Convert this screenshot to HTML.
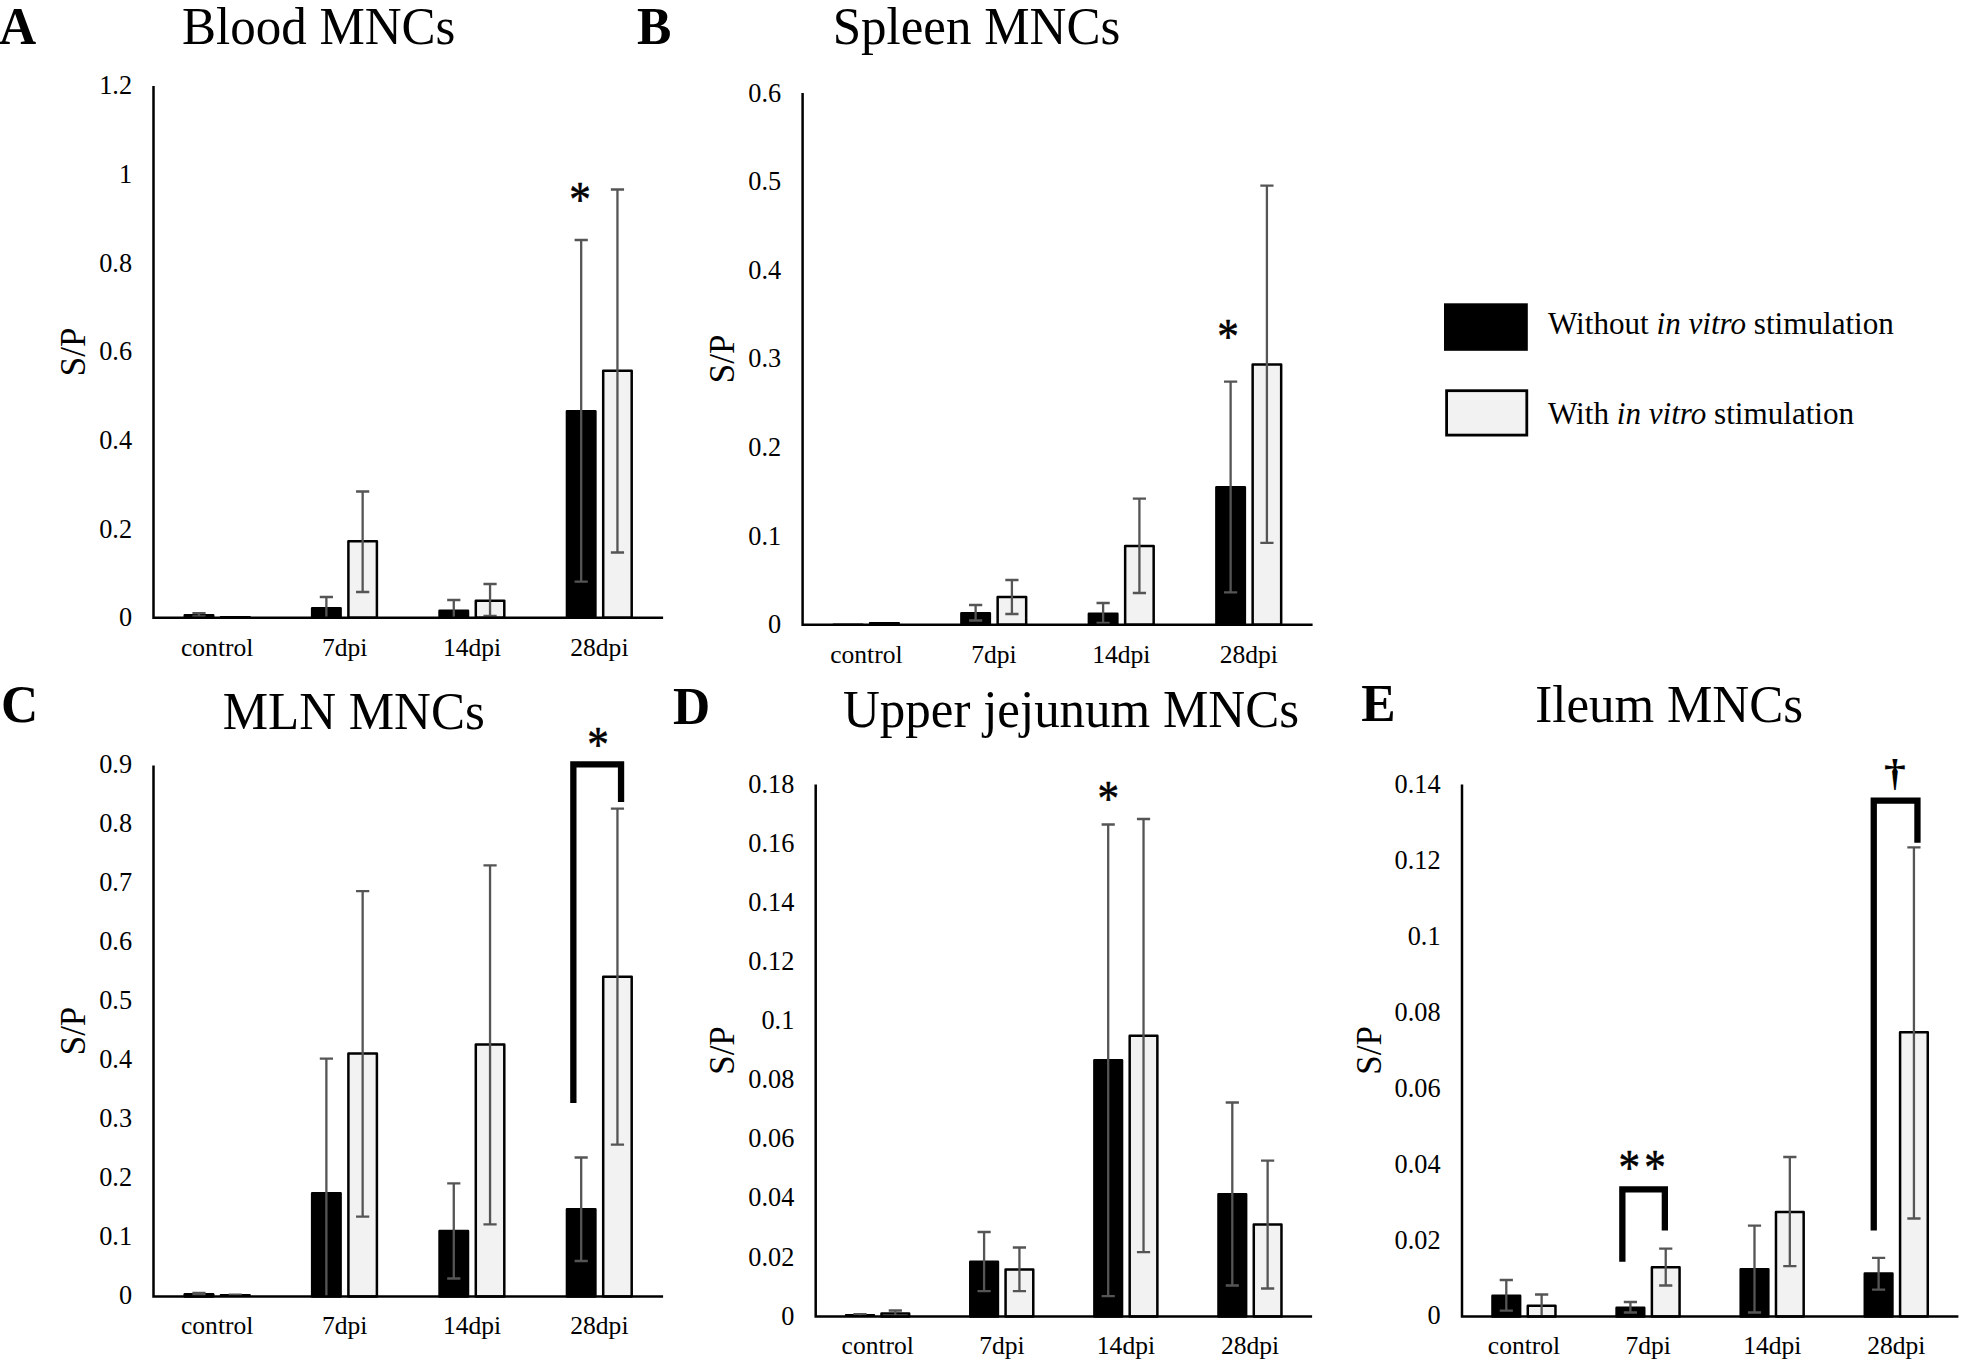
<!DOCTYPE html>
<html lang="en"><head><meta charset="utf-8"><title>S/P ratios in MNCs</title>
<style>html,body{margin:0;padding:0;background:#fff}body{width:1961px;height:1362px;overflow:hidden}svg{display:block}text{font-family:"Liberation Serif", "DejaVu Serif", serif;fill:#000}</style>
</head><body>
<svg width="1961" height="1362" viewBox="0 0 1961 1362">
<rect width="1961" height="1362" fill="#fff"/>
<g>
<rect x="184.75" y="615.15" width="28.46" height="2.65" fill="#000" stroke="#000" stroke-width="2.5" stroke-linejoin="round"/>
<rect x="219.75" y="615.9" width="31" height="1.9" rx="0.8" fill="#000"/>
<path d="M198.98 613.2V616.4M192.38 613.2H205.58M192.38 616.4H205.58" stroke="#555555" stroke-width="2.3" fill="none"/>
<rect x="312.15" y="608.15" width="28.46" height="9.65" fill="#000" stroke="#000" stroke-width="2.5" stroke-linejoin="round"/>
<rect x="348.4" y="541.25" width="28.5" height="76.55" fill="#f2f2f2" stroke="#000" stroke-width="2.5" stroke-linejoin="round"/>
<path d="M326.38 597V617.8M319.78 597H332.98" stroke="#555555" stroke-width="2.3" fill="none"/>
<path d="M362.65 491.5V592M356.05 491.5H369.25M356.05 592H369.25" stroke="#555555" stroke-width="2.3" fill="none"/>
<rect x="439.55" y="610.65" width="28.46" height="7.15" fill="#000" stroke="#000" stroke-width="2.5" stroke-linejoin="round"/>
<rect x="475.8" y="600.75" width="28.5" height="17.05" fill="#f2f2f2" stroke="#000" stroke-width="2.5" stroke-linejoin="round"/>
<path d="M453.78 600V617.8M447.18 600H460.38" stroke="#555555" stroke-width="2.3" fill="none"/>
<path d="M490.05 584V616M483.45 584H496.65M483.45 616H496.65" stroke="#555555" stroke-width="2.3" fill="none"/>
<rect x="566.95" y="411.15" width="28.46" height="206.65" fill="#000" stroke="#000" stroke-width="2.5" stroke-linejoin="round"/>
<rect x="603.2" y="370.75" width="28.5" height="247.05" fill="#f2f2f2" stroke="#000" stroke-width="2.5" stroke-linejoin="round"/>
<path d="M581.18 240V581.7M574.58 240H587.78M574.58 581.7H587.78" stroke="#555555" stroke-width="2.3" fill="none"/>
<path d="M617.45 189.5V552.5M610.85 189.5H624.05M610.85 552.5H624.05" stroke="#555555" stroke-width="2.3" fill="none"/>
<path d="M153.5 86V617.8H663.1" stroke="#000" stroke-width="2.5" fill="none" stroke-linejoin="miter"/>
<text x="132.1" y="626.19" font-size="26.3" text-anchor="end">0</text>
<text x="132.1" y="537.54" font-size="26.3" text-anchor="end">0.2</text>
<text x="132.1" y="448.89" font-size="26.3" text-anchor="end">0.4</text>
<text x="132.1" y="360.24" font-size="26.3" text-anchor="end">0.6</text>
<text x="132.1" y="271.59" font-size="26.3" text-anchor="end">0.8</text>
<text x="132.1" y="182.94" font-size="26.3" text-anchor="end">1</text>
<text x="132.1" y="94.29" font-size="26.3" text-anchor="end">1.2</text>
<text x="217.2" y="656" font-size="25.55" text-anchor="middle">control</text>
<text x="344.6" y="656" font-size="25.55" text-anchor="middle">7dpi</text>
<text x="472" y="656" font-size="25.55" text-anchor="middle">14dpi</text>
<text x="599.4" y="656" font-size="25.55" text-anchor="middle">28dpi</text>
<text transform="translate(84.6 351.9) rotate(-90)" font-size="35" text-anchor="middle">S/P</text>
<text transform="translate(-1 44) scale(1 1.03)" font-size="51.5" font-weight="bold">A</text>
<text transform="translate(182 43.8) scale(1 1.02)" font-size="51">Blood MNCs</text>
</g>
<text transform="translate(580 192.3) scale(1 1.17)" x="0" y="20.37" font-size="43.2" text-anchor="middle" stroke="#000" stroke-width="0.5" stroke-linejoin="round">*</text>
<g>
<rect x="832.63" y="623.4" width="30.98" height="1.4" rx="0.8" fill="#000"/>
<rect x="868.9" y="622" width="31.02" height="2.8" rx="0.8" fill="#000"/>
<rect x="961.38" y="613.15" width="28.48" height="11.65" fill="#000" stroke="#000" stroke-width="2.5" stroke-linejoin="round"/>
<rect x="997.65" y="596.95" width="28.52" height="27.85" fill="#f2f2f2" stroke="#000" stroke-width="2.5" stroke-linejoin="round"/>
<path d="M975.62 605V620.5M969.02 605H982.22M969.02 620.5H982.22" stroke="#555555" stroke-width="2.3" fill="none"/>
<path d="M1011.91 580V614M1005.31 580H1018.51M1005.31 614H1018.51" stroke="#555555" stroke-width="2.3" fill="none"/>
<rect x="1088.88" y="613.65" width="28.48" height="11.15" fill="#000" stroke="#000" stroke-width="2.5" stroke-linejoin="round"/>
<rect x="1125.15" y="545.95" width="28.52" height="78.85" fill="#f2f2f2" stroke="#000" stroke-width="2.5" stroke-linejoin="round"/>
<path d="M1103.12 603V623M1096.52 603H1109.72M1096.52 623H1109.72" stroke="#555555" stroke-width="2.3" fill="none"/>
<path d="M1139.41 498.7V593M1132.81 498.7H1146.01M1132.81 593H1146.01" stroke="#555555" stroke-width="2.3" fill="none"/>
<rect x="1216.38" y="487.35" width="28.48" height="137.45" fill="#000" stroke="#000" stroke-width="2.5" stroke-linejoin="round"/>
<rect x="1252.65" y="364.45" width="28.52" height="260.35" fill="#f2f2f2" stroke="#000" stroke-width="2.5" stroke-linejoin="round"/>
<path d="M1230.62 381.7V592.3M1224.02 381.7H1237.22M1224.02 592.3H1237.22" stroke="#555555" stroke-width="2.3" fill="none"/>
<path d="M1266.91 185.7V542.8M1260.31 185.7H1273.51M1260.31 542.8H1273.51" stroke="#555555" stroke-width="2.3" fill="none"/>
<path d="M802.6 93V624.8H1312.6" stroke="#000" stroke-width="2.5" fill="none" stroke-linejoin="miter"/>
<text x="781.2" y="633.09" font-size="26.3" text-anchor="end">0</text>
<text x="781.2" y="544.54" font-size="26.3" text-anchor="end">0.1</text>
<text x="781.2" y="455.99" font-size="26.3" text-anchor="end">0.2</text>
<text x="781.2" y="367.44" font-size="26.3" text-anchor="end">0.3</text>
<text x="781.2" y="278.89" font-size="26.3" text-anchor="end">0.4</text>
<text x="781.2" y="190.34" font-size="26.3" text-anchor="end">0.5</text>
<text x="781.2" y="101.79" font-size="26.3" text-anchor="end">0.6</text>
<text x="866.35" y="662.5" font-size="25.55" text-anchor="middle">control</text>
<text x="993.85" y="662.5" font-size="25.55" text-anchor="middle">7dpi</text>
<text x="1121.35" y="662.5" font-size="25.55" text-anchor="middle">14dpi</text>
<text x="1248.85" y="662.5" font-size="25.55" text-anchor="middle">28dpi</text>
<text transform="translate(734 358.9) rotate(-90)" font-size="35" text-anchor="middle">S/P</text>
<text transform="translate(637 44) scale(1 1.03)" font-size="51.5" font-weight="bold">B</text>
<text transform="translate(832.7 43.9) scale(1 1.02)" font-size="51">Spleen MNCs</text>
</g>
<text transform="translate(1228 329.3) scale(1 1.17)" x="0" y="20.37" font-size="43.2" text-anchor="middle" stroke="#000" stroke-width="0.5" stroke-linejoin="round">*</text>
<g>
<rect x="184.75" y="1294.35" width="28.46" height="2.15" fill="#000" stroke="#000" stroke-width="2.5" stroke-linejoin="round"/>
<rect x="219.75" y="1294" width="31" height="2.5" rx="0.8" fill="#000"/>
<path d="M198.98 1293V1295M192.38 1293H205.58M192.38 1295H205.58" stroke="#555555" stroke-width="2.3" fill="none"/>
<path d="M235.25 1294.6V1296.5M228.65 1294.6H241.85" stroke="#555555" stroke-width="2.3" fill="none"/>
<rect x="312.15" y="1193.15" width="28.46" height="103.35" fill="#000" stroke="#000" stroke-width="2.5" stroke-linejoin="round"/>
<rect x="348.4" y="1053.45" width="28.5" height="243.05" fill="#f2f2f2" stroke="#000" stroke-width="2.5" stroke-linejoin="round"/>
<path d="M326.38 1058.7V1296.5M319.78 1058.7H332.98" stroke="#555555" stroke-width="2.3" fill="none"/>
<path d="M362.65 891.2V1216.7M356.05 891.2H369.25M356.05 1216.7H369.25" stroke="#555555" stroke-width="2.3" fill="none"/>
<rect x="439.55" y="1230.95" width="28.46" height="65.55" fill="#000" stroke="#000" stroke-width="2.5" stroke-linejoin="round"/>
<rect x="475.8" y="1044.45" width="28.5" height="252.05" fill="#f2f2f2" stroke="#000" stroke-width="2.5" stroke-linejoin="round"/>
<path d="M453.78 1183.3V1278.5M447.18 1183.3H460.38M447.18 1278.5H460.38" stroke="#555555" stroke-width="2.3" fill="none"/>
<path d="M490.05 865.4V1224.3M483.45 865.4H496.65M483.45 1224.3H496.65" stroke="#555555" stroke-width="2.3" fill="none"/>
<rect x="566.95" y="1209.15" width="28.46" height="87.35" fill="#000" stroke="#000" stroke-width="2.5" stroke-linejoin="round"/>
<rect x="603.2" y="976.75" width="28.5" height="319.75" fill="#f2f2f2" stroke="#000" stroke-width="2.5" stroke-linejoin="round"/>
<path d="M581.18 1157.5V1261M574.58 1157.5H587.78M574.58 1261H587.78" stroke="#555555" stroke-width="2.3" fill="none"/>
<path d="M617.45 808.7V1144.6M610.85 808.7H624.05M610.85 1144.6H624.05" stroke="#555555" stroke-width="2.3" fill="none"/>
<path d="M153.5 765.5V1296.5H663.1" stroke="#000" stroke-width="2.5" fill="none" stroke-linejoin="miter"/>
<text x="132.1" y="1303.89" font-size="26.3" text-anchor="end">0</text>
<text x="132.1" y="1244.89" font-size="26.3" text-anchor="end">0.1</text>
<text x="132.1" y="1185.89" font-size="26.3" text-anchor="end">0.2</text>
<text x="132.1" y="1126.89" font-size="26.3" text-anchor="end">0.3</text>
<text x="132.1" y="1067.89" font-size="26.3" text-anchor="end">0.4</text>
<text x="132.1" y="1008.89" font-size="26.3" text-anchor="end">0.5</text>
<text x="132.1" y="949.89" font-size="26.3" text-anchor="end">0.6</text>
<text x="132.1" y="890.89" font-size="26.3" text-anchor="end">0.7</text>
<text x="132.1" y="831.89" font-size="26.3" text-anchor="end">0.8</text>
<text x="132.1" y="772.89" font-size="26.3" text-anchor="end">0.9</text>
<text x="217.2" y="1333.5" font-size="25.55" text-anchor="middle">control</text>
<text x="344.6" y="1333.5" font-size="25.55" text-anchor="middle">7dpi</text>
<text x="472" y="1333.5" font-size="25.55" text-anchor="middle">14dpi</text>
<text x="599.4" y="1333.5" font-size="25.55" text-anchor="middle">28dpi</text>
<text transform="translate(84.6 1031) rotate(-90)" font-size="35" text-anchor="middle">S/P</text>
<text transform="translate(1 722.2) scale(1 1.03)" font-size="51.5" font-weight="bold">C</text>
<text transform="translate(222.7 729) scale(1 1.02)" font-size="51">MLN MNCs</text>
</g>
<path d="M570.2 1103V761.2H624.2V802H617.9V767.5H576.5V1103Z" fill="#000"/>
<text transform="translate(598 736.8) scale(1 1.17)" x="0" y="20.37" font-size="43.2" text-anchor="middle" stroke="#000" stroke-width="0.5" stroke-linejoin="round">*</text>
<g>
<rect x="844.93" y="1313.9" width="30.16" height="2.6" rx="0.8" fill="#000"/>
<rect x="881.48" y="1313.45" width="27.69" height="3.05" fill="#f2f2f2" stroke="#000" stroke-width="2.5" stroke-linejoin="round"/>
<path d="M860 1314.2V1316.5M853.4 1314.2H866.6" stroke="#555555" stroke-width="2.3" fill="none"/>
<path d="M895.33 1310.5V1316.5M888.73 1310.5H901.93" stroke="#555555" stroke-width="2.3" fill="none"/>
<rect x="970.28" y="1261.85" width="27.66" height="54.65" fill="#000" stroke="#000" stroke-width="2.5" stroke-linejoin="round"/>
<rect x="1005.58" y="1269.45" width="27.69" height="47.05" fill="#f2f2f2" stroke="#000" stroke-width="2.5" stroke-linejoin="round"/>
<path d="M984.1 1232V1291.2M977.5 1232H990.7M977.5 1291.2H990.7" stroke="#555555" stroke-width="2.3" fill="none"/>
<path d="M1019.43 1247.5V1291.2M1012.83 1247.5H1026.03M1012.83 1291.2H1026.03" stroke="#555555" stroke-width="2.3" fill="none"/>
<rect x="1094.38" y="1060.15" width="27.66" height="256.35" fill="#000" stroke="#000" stroke-width="2.5" stroke-linejoin="round"/>
<rect x="1129.68" y="1035.75" width="27.69" height="280.75" fill="#f2f2f2" stroke="#000" stroke-width="2.5" stroke-linejoin="round"/>
<path d="M1108.2 824.5V1296.1M1101.6 824.5H1114.8M1101.6 1296.1H1114.8" stroke="#555555" stroke-width="2.3" fill="none"/>
<path d="M1143.53 819V1252.2M1136.93 819H1150.13M1136.93 1252.2H1150.13" stroke="#555555" stroke-width="2.3" fill="none"/>
<rect x="1218.48" y="1194.35" width="27.66" height="122.15" fill="#000" stroke="#000" stroke-width="2.5" stroke-linejoin="round"/>
<rect x="1253.78" y="1224.55" width="27.69" height="91.95" fill="#f2f2f2" stroke="#000" stroke-width="2.5" stroke-linejoin="round"/>
<path d="M1232.3 1102.5V1285.5M1225.7 1102.5H1238.9M1225.7 1285.5H1238.9" stroke="#555555" stroke-width="2.3" fill="none"/>
<path d="M1267.63 1160.6V1288.5M1261.03 1160.6H1274.23M1261.03 1288.5H1274.23" stroke="#555555" stroke-width="2.3" fill="none"/>
<path d="M815.7 784.5V1316.5H1312.1" stroke="#000" stroke-width="2.5" fill="none" stroke-linejoin="miter"/>
<text x="794.3" y="1324.69" font-size="26.3" text-anchor="end">0</text>
<text x="794.3" y="1265.59" font-size="26.3" text-anchor="end">0.02</text>
<text x="794.3" y="1206.49" font-size="26.3" text-anchor="end">0.04</text>
<text x="794.3" y="1147.39" font-size="26.3" text-anchor="end">0.06</text>
<text x="794.3" y="1088.29" font-size="26.3" text-anchor="end">0.08</text>
<text x="794.3" y="1029.19" font-size="26.3" text-anchor="end">0.1</text>
<text x="794.3" y="970.09" font-size="26.3" text-anchor="end">0.12</text>
<text x="794.3" y="910.99" font-size="26.3" text-anchor="end">0.14</text>
<text x="794.3" y="851.89" font-size="26.3" text-anchor="end">0.16</text>
<text x="794.3" y="792.79" font-size="26.3" text-anchor="end">0.18</text>
<text x="877.75" y="1353.8" font-size="25.55" text-anchor="middle">control</text>
<text x="1001.85" y="1353.8" font-size="25.55" text-anchor="middle">7dpi</text>
<text x="1125.95" y="1353.8" font-size="25.55" text-anchor="middle">14dpi</text>
<text x="1250.05" y="1353.8" font-size="25.55" text-anchor="middle">28dpi</text>
<text transform="translate(734.3 1050.5) rotate(-90)" font-size="35" text-anchor="middle">S/P</text>
<text transform="translate(672.9 724) scale(1 1.03)" font-size="51.5" font-weight="bold">D</text>
<text transform="translate(843 726.5) scale(1 1.02)" font-size="51">Upper jejunum MNCs</text>
</g>
<text transform="translate(1108.3 790.7) scale(1 1.17)" x="0" y="20.37" font-size="43.2" text-anchor="middle" stroke="#000" stroke-width="0.5" stroke-linejoin="round">*</text>
<g>
<rect x="1492.48" y="1295.65" width="27.66" height="20.75" fill="#000" stroke="#000" stroke-width="2.5" stroke-linejoin="round"/>
<rect x="1527.78" y="1305.75" width="27.69" height="10.65" fill="#f2f2f2" stroke="#000" stroke-width="2.5" stroke-linejoin="round"/>
<path d="M1506.3 1280V1310.7M1499.7 1280H1512.9M1499.7 1310.7H1512.9" stroke="#555555" stroke-width="2.3" fill="none"/>
<path d="M1541.63 1294.5V1316.4M1535.03 1294.5H1548.23" stroke="#555555" stroke-width="2.3" fill="none"/>
<rect x="1616.58" y="1307.65" width="27.66" height="8.75" fill="#000" stroke="#000" stroke-width="2.5" stroke-linejoin="round"/>
<rect x="1651.88" y="1267.25" width="27.69" height="49.15" fill="#f2f2f2" stroke="#000" stroke-width="2.5" stroke-linejoin="round"/>
<path d="M1630.4 1302V1312.5M1623.8 1302H1637M1623.8 1312.5H1637" stroke="#555555" stroke-width="2.3" fill="none"/>
<path d="M1665.73 1248.7V1285.5M1659.13 1248.7H1672.33M1659.13 1285.5H1672.33" stroke="#555555" stroke-width="2.3" fill="none"/>
<rect x="1740.68" y="1269.35" width="27.66" height="47.05" fill="#000" stroke="#000" stroke-width="2.5" stroke-linejoin="round"/>
<rect x="1775.98" y="1211.95" width="27.69" height="104.45" fill="#f2f2f2" stroke="#000" stroke-width="2.5" stroke-linejoin="round"/>
<path d="M1754.5 1225.7V1312.5M1747.9 1225.7H1761.1M1747.9 1312.5H1761.1" stroke="#555555" stroke-width="2.3" fill="none"/>
<path d="M1789.83 1157V1266.2M1783.23 1157H1796.43M1783.23 1266.2H1796.43" stroke="#555555" stroke-width="2.3" fill="none"/>
<rect x="1864.78" y="1273.55" width="27.66" height="42.85" fill="#000" stroke="#000" stroke-width="2.5" stroke-linejoin="round"/>
<rect x="1900.08" y="1032.25" width="27.69" height="284.15" fill="#f2f2f2" stroke="#000" stroke-width="2.5" stroke-linejoin="round"/>
<path d="M1878.6 1257.9V1289.6M1872 1257.9H1885.2M1872 1289.6H1885.2" stroke="#555555" stroke-width="2.3" fill="none"/>
<path d="M1913.93 847.3V1218.5M1907.33 847.3H1920.53M1907.33 1218.5H1920.53" stroke="#555555" stroke-width="2.3" fill="none"/>
<path d="M1462 784.5V1316.4H1958.4" stroke="#000" stroke-width="2.5" fill="none" stroke-linejoin="miter"/>
<text x="1440.6" y="1324.49" font-size="26.3" text-anchor="end">0</text>
<text x="1440.6" y="1248.59" font-size="26.3" text-anchor="end">0.02</text>
<text x="1440.6" y="1172.69" font-size="26.3" text-anchor="end">0.04</text>
<text x="1440.6" y="1096.79" font-size="26.3" text-anchor="end">0.06</text>
<text x="1440.6" y="1020.89" font-size="26.3" text-anchor="end">0.08</text>
<text x="1440.6" y="944.99" font-size="26.3" text-anchor="end">0.1</text>
<text x="1440.6" y="869.09" font-size="26.3" text-anchor="end">0.12</text>
<text x="1440.6" y="793.19" font-size="26.3" text-anchor="end">0.14</text>
<text x="1524.05" y="1353.8" font-size="25.55" text-anchor="middle">control</text>
<text x="1648.15" y="1353.8" font-size="25.55" text-anchor="middle">7dpi</text>
<text x="1772.25" y="1353.8" font-size="25.55" text-anchor="middle">14dpi</text>
<text x="1896.35" y="1353.8" font-size="25.55" text-anchor="middle">28dpi</text>
<text transform="translate(1380.5 1050.45) rotate(-90)" font-size="35" text-anchor="middle">S/P</text>
<text transform="translate(1361.25 721.1) scale(1 1.03)" font-size="51.5" font-weight="bold">E</text>
<text transform="translate(1535.3 721.5) scale(1 1.02)" font-size="51">Ileum MNCs</text>
</g>
<path d="M1619.2 1261.7V1186.2H1668V1230.5H1661.7V1192.5H1625.5V1261.7Z" fill="#000"/>
<text transform="translate(1629.4 1159.7) scale(1 1.17)" x="0" y="20.37" font-size="43.2" text-anchor="middle" stroke="#000" stroke-width="0.5" stroke-linejoin="round">*</text>
<text transform="translate(1655 1159.7) scale(1 1.17)" x="0" y="20.37" font-size="43.2" text-anchor="middle" stroke="#000" stroke-width="0.5" stroke-linejoin="round">*</text>
<path d="M1870.6 1230.4V797.4H1920.6V842.8H1914.3V803.7H1876.9V1230.4Z" fill="#000"/>
<text transform="translate(1894.8 775) scale(1.18 1)" x="0" y="10.67" font-size="37" font-weight="bold" text-anchor="middle">†</text>
<g>
<rect x="1444" y="303.3" width="83.8" height="47.5" fill="#000"/>
<rect x="1446.6" y="390.7" width="80.2" height="44.4" fill="#f2f2f2" stroke="#000" stroke-width="2.8"/>
<text x="1548" y="334.4" font-size="31.12">Without <tspan font-style="italic">in vitro</tspan> stimulation</text>
<text x="1548" y="424" font-size="31.12">With <tspan font-style="italic">in vitro</tspan> stimulation</text>
</g>
</svg></body></html>
